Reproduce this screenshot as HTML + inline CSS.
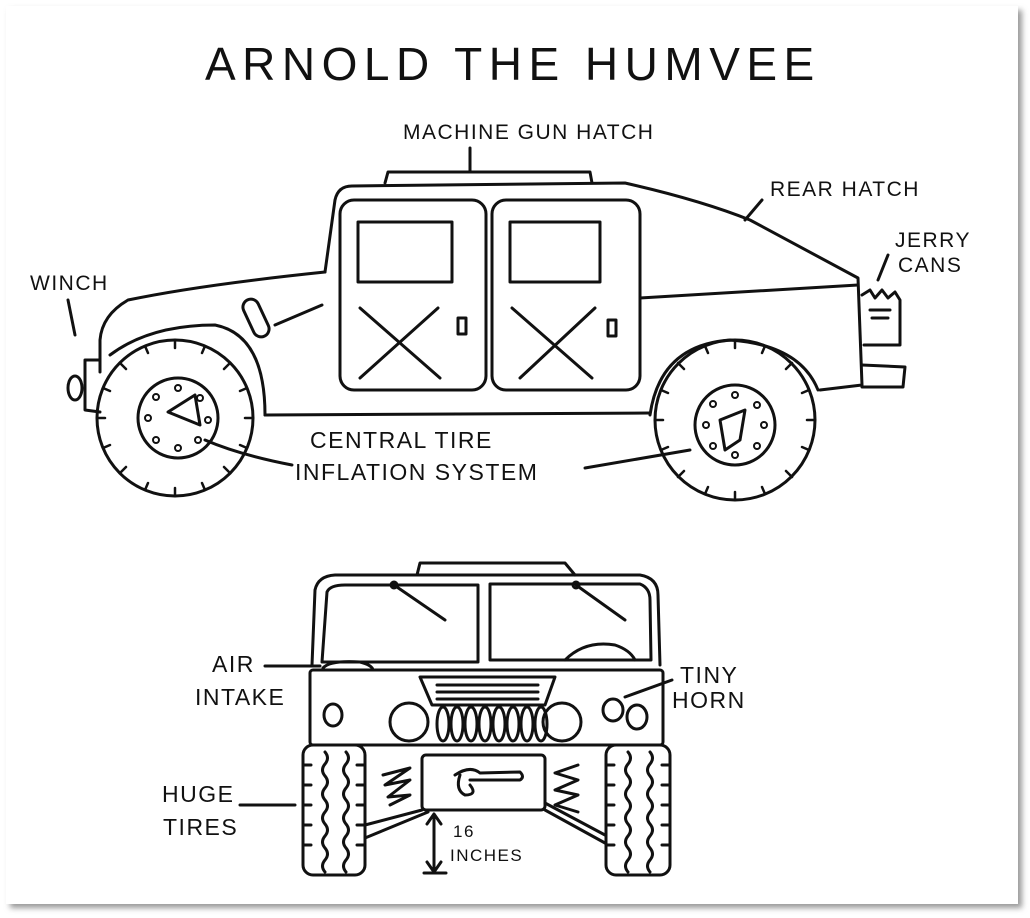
<!DOCTYPE html>
<html><head><meta charset="utf-8"><style>
html,body{margin:0;padding:0;background:#fff;}
svg{display:block;}
text{font-family:"Liberation Sans",sans-serif;fill:#111;}
</style></head><body>
<svg width="1030" height="918" viewBox="0 0 1030 918" xmlns="http://www.w3.org/2000/svg">
<defs><filter id="sh" x="-5%" y="-5%" width="110%" height="110%"><feGaussianBlur stdDeviation="3"/></filter></defs>
<rect x="10" y="10" width="1012" height="898" fill="#999" filter="url(#sh)"/>
<rect x="6" y="6" width="1012" height="898" fill="#fff"/>
<g fill="none" stroke="#111" stroke-width="3" stroke-linecap="round" stroke-linejoin="round">
<!-- SIDE VIEW -->
<path d="M385,183 L388,172 L590,172 L592,183"/>
<path d="M325,272 L335,200 Q338,186 352,186 L625,183 Q700,200 750,220 L858,278 L862,385 L820,390"/>
<path d="M325,272 Q200,285 128,300 Q102,315 100,340 L100,372"/>
<path d="M100,360 L85,360 L85,410 L100,412"/>
<ellipse cx="75" cy="388" rx="7" ry="12"/>
<path d="M75,335 L68,300"/>
<!-- front wheel -->
<circle cx="175" cy="418" r="78"/>
<circle cx="178" cy="418" r="40"/>
<path d="M168,412 L195,395 L200,425 Z"/>
<g stroke-width="2.5">
<path d="M175,340 v8 M175,496 v-8 M97,418 h8 M253,418 h-8 M120,363 l6,6 M230,363 l-6,6 M120,473 l6,-6 M230,473 l-6,-6 M145,346 l3,7 M205,346 l-3,7 M145,490 l3,-7 M205,490 l-3,-7 M103,388 l7,3 M247,388 l-7,3 M103,448 l7,-3 M247,448 l-7,-3"/>
<path d="M735,340 v8 M735,500 v-8 M655,420 h8 M815,420 h-8 M678,363 l6,6 M792,363 l-6,6 M678,477 l6,-6 M792,477 l-6,-6 M705,346 l3,7 M765,346 l-3,7 M705,494 l3,-7 M765,494 l-3,-7 M661,390 l7,3 M809,390 l-7,3 M661,450 l7,-3 M809,450 l-7,-3"/>
</g>
<g stroke-width="2">
<circle cx="178" cy="388" r="3"/><circle cx="200" cy="398" r="3"/><circle cx="208" cy="420" r="3"/><circle cx="198" cy="440" r="3"/><circle cx="178" cy="448" r="3"/><circle cx="156" cy="440" r="3"/><circle cx="148" cy="418" r="3"/><circle cx="156" cy="397" r="3"/>
<circle cx="735" cy="395" r="3"/><circle cx="757" cy="405" r="3"/><circle cx="764" cy="425" r="3"/><circle cx="757" cy="446" r="3"/><circle cx="735" cy="455" r="3"/><circle cx="713" cy="446" r="3"/><circle cx="706" cy="425" r="3"/><circle cx="713" cy="404" r="3"/>
</g>
<path d="M110,355 Q150,325 215,325 Q265,335 265,415"/>
<!-- rear wheel -->
<circle cx="735" cy="420" r="80"/>
<circle cx="735" cy="425" r="40"/>
<path d="M720,420 L745,410 L740,440 L725,450 Z"/>
<path d="M650,415 Q660,345 730,340 Q800,345 818,390"/>
<path d="M265,415 L650,413"/>
<!-- doors -->
<rect x="340" y="200" width="146" height="190" rx="14"/>
<rect x="492" y="200" width="148" height="190" rx="14"/>
<rect x="358" y="222" width="94" height="60"/>
<rect x="510" y="222" width="90" height="60"/>
<path d="M360,308 L440,378 M438,308 L360,378"/>
<path d="M512,308 L592,378 M595,308 L520,378"/>
<rect x="458" y="318" width="8" height="16"/>
<rect x="608" y="320" width="8" height="16"/>
<path d="M640,298 L858,285"/>
<rect x="248" y="298" width="16" height="40" rx="8" transform="rotate(-25 256 318)"/>
<path d="M275,325 L322,305"/>
<!-- rear -->
<path d="M862,365 L905,367 L903,387 L862,387"/>
<path d="M862,295 L870,290 L875,298 L882,290 L888,298 L895,292 L900,300 L900,345 L864,345"/>
<path d="M870,310 L890,310 M872,318 L888,318"/>
<!-- label leaders -->
<path d="M470,148 L470,172"/>
<path d="M762,200 L745,220"/>
<path d="M888,255 L878,280"/>
<path d="M205,440 Q240,455 292,465"/>
<path d="M585,468 L690,450"/>
<!-- FRONT VIEW -->
<path d="M417,575 L420,563 L565,563 L575,575"/>
<path d="M312,665 L315,590 Q318,576 335,575 L640,575 Q658,578 658,595 L660,665"/>
<path d="M322,662 L327,592 Q330,585 345,585 L478,585 L478,662 Z"/>
<path d="M490,584 L640,584 Q650,588 650,600 L651,660 L490,660 Z"/>
<path d="M394,585 L445,620"/><circle cx="394" cy="585" r="3"/>
<path d="M576,585 L625,620"/><circle cx="576" cy="585" r="3"/>
<path d="M565,660 Q585,640 615,645 Q630,650 635,660"/>
<path d="M323,668 Q330,660 360,662 Q372,665 373,670"/>
<path d="M265,666 L320,666"/>
<rect x="310" y="670" width="353" height="75" rx="3"/>
<path d="M420,677 L555,677 L545,705 L432,705 Z"/>
<path d="M437,685 L538,685 M437,692 L538,692 M437,699 L538,699"/>
<ellipse cx="333" cy="715" rx="9" ry="11"/>
<circle cx="409" cy="722" r="19"/>
<circle cx="562" cy="722" r="19"/>
<ellipse cx="613" cy="710" rx="10" ry="11"/>
<ellipse cx="637" cy="717" rx="10" ry="12"/>
<path d="M625,697 L672,680"/>
<g>
<ellipse cx="443" cy="724" rx="6" ry="17"/><ellipse cx="457" cy="724" rx="6" ry="17"/>
<ellipse cx="471" cy="724" rx="6" ry="17"/><ellipse cx="485" cy="724" rx="6" ry="17"/>
<ellipse cx="499" cy="724" rx="6" ry="17"/><ellipse cx="513" cy="724" rx="6" ry="17"/>
<ellipse cx="527" cy="724" rx="6" ry="17"/><ellipse cx="541" cy="724" rx="6" ry="17"/>
</g>
<!-- tires -->
<rect x="303" y="745" width="62" height="130" rx="10"/>
<rect x="606" y="745" width="64" height="130" rx="10"/>
<path d="M325,752 q5,6 0,12 q-5,6 0,12 q5,6 0,12 q-5,6 0,12 q5,6 0,12 q-5,6 0,12 q5,6 0,12 q-5,6 0,12 q5,6 0,12 q-5,6 0,12"/>
<path d="M346,752 q5,6 0,12 q-5,6 0,12 q5,6 0,12 q-5,6 0,12 q5,6 0,12 q-5,6 0,12 q5,6 0,12 q-5,6 0,12 q5,6 0,12 q-5,6 0,12"/>
<path d="M628,752 q5,6 0,12 q-5,6 0,12 q5,6 0,12 q-5,6 0,12 q5,6 0,12 q-5,6 0,12 q5,6 0,12 q-5,6 0,12 q5,6 0,12 q-5,6 0,12"/>
<path d="M650,752 q5,6 0,12 q-5,6 0,12 q5,6 0,12 q-5,6 0,12 q5,6 0,12 q-5,6 0,12 q5,6 0,12 q-5,6 0,12 q5,6 0,12 q-5,6 0,12"/>
<path d="M303,765 h8 M303,785 h8 M303,805 h8 M303,825 h8 M303,845 h8 M357,765 h8 M357,785 h8 M357,805 h8 M357,825 h8 M357,845 h8"/>
<path d="M606,765 h8 M606,785 h8 M606,805 h8 M606,825 h8 M606,845 h8 M662,765 h8 M662,785 h8 M662,805 h8 M662,825 h8 M662,845 h8"/>
<!-- suspension -->
<rect x="422" y="755" width="123" height="55" rx="4"/>
<path d="M455,775 Q470,765 480,773 L520,772 Q525,777 520,780 L470,780"/>
<path d="M460,775 Q455,790 465,795 Q478,795 470,785"/>
<path d="M383,775 L410,768 L385,785 L410,780 L388,797 L410,795 L390,805"/>
<path d="M578,765 L555,773 L578,780 L555,790 L578,795 L555,805 L578,812"/>
<path d="M365,825 L422,810 M365,838 L428,812"/>
<path d="M545,810 L605,843 M545,803 L605,835"/>
<path d="M434,814 L434,872 M427,824 L434,814 L441,824 M427,862 L434,872 L441,862 M424,873 L446,873"/>
<path d="M240,805 L295,805"/>
</g>
<g font-size="21" letter-spacing="1.5">
<text x="205" y="80" font-size="46" letter-spacing="6.5">ARNOLD THE HUMVEE</text>
<text x="403" y="139">MACHINE GUN HATCH</text>
<text x="770" y="196">REAR HATCH</text>
<text x="895" y="247">JERRY</text>
<text x="898" y="272">CANS</text>
<text x="30" y="290">WINCH</text>
<text x="310" y="448" font-size="23">CENTRAL TIRE</text>
<text x="295" y="480" font-size="23">INFLATION SYSTEM</text>
<text x="212" y="672" font-size="23">AIR</text>
<text x="195" y="705" font-size="23">INTAKE</text>
<text x="680" y="683" font-size="23">TINY</text>
<text x="672" y="708" font-size="23">HORN</text>
<text x="162" y="802" font-size="23">HUGE</text>
<text x="163" y="835" font-size="23">TIRES</text>
<text x="453" y="837" font-size="17">16</text>
<text x="450" y="861" font-size="17">INCHES</text>
</g>
</svg>
</body></html>
